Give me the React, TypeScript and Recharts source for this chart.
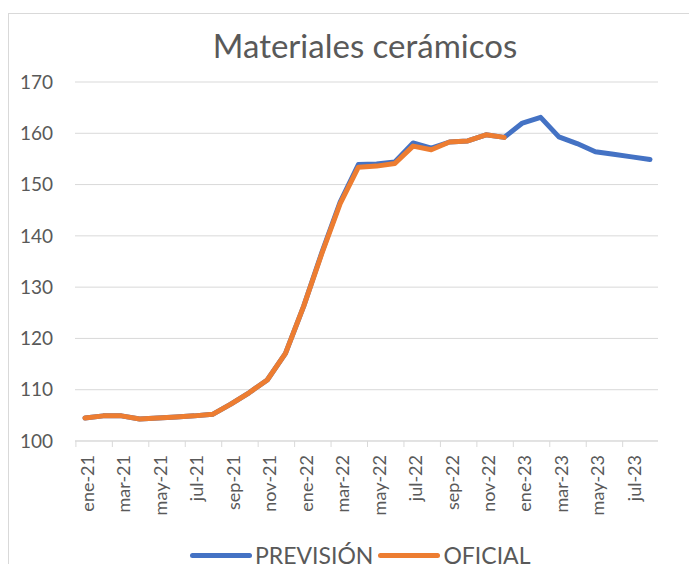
import { LineChart, Line, XAxis, YAxis, CartesianGrid, Legend } from "recharts";

const months = [
  "ene-21", "feb-21", "mar-21", "abr-21", "may-21", "jun-21", "jul-21", "ago-21",
  "sep-21", "oct-21", "nov-21", "dic-21", "ene-22", "feb-22", "mar-22", "abr-22",
  "may-22", "jun-22", "jul-22", "ago-22", "sep-22", "oct-22", "nov-22", "dic-22",
  "ene-23", "feb-23", "mar-23", "abr-23", "may-23", "jun-23", "jul-23", "ago-23",
];

const prevision = [
  104.5, 104.9, 104.9, 104.3, 104.5, 104.7, 104.9, 105.2,
  107.2, 109.4, 111.9, 117.1, 126.3, 136.8, 146.6, 153.9,
  154.0, 154.4, 158.1, 157.1, 158.3, 158.5, 159.7, 159.2,
  162.0, 163.1, 159.3, 158.0, 156.4, 155.9, 155.4, 154.9,
];

const oficial = [
  104.5, 104.9, 104.9, 104.3, 104.5, 104.7, 104.9, 105.2,
  107.2, 109.4, 111.9, 117.1, 126.3, 136.6, 146.3, 153.4,
  153.6, 154.1, 157.5, 156.8, 158.3, 158.5, 159.7, 159.2,
];

const seriesNames = ["PREVISIÓN", "OFICIAL"];

const yTicks = [100, 110, 120, 130, 140, 150, 160, 170];

const data = months.map((m, i) => ({
  month: m,
  prevision: prevision[i],
  oficial: i < oficial.length ? oficial[i] : null,
}));

const FONT = "Lato, 'Open Sans', sans-serif";
const TEXT = "#595959";
const GRID = "#d9d9d9";
const HALF_STEP = 9.1;

function MonthTick(props: any) {
  const { x, y, payload, index } = props;
  const last = index === months.length - 2;
  return (
    <g>
      <line x1={x - HALF_STEP} y1={y} x2={x - HALF_STEP} y2={y + 6} stroke={GRID} />
      {last && (
        <line x1={x + HALF_STEP * 3} y1={y} x2={x + HALF_STEP * 3} y2={y + 6} stroke={GRID} />
      )}
      <text
        x={x}
        y={y + 14}
        dy="0.5em"
        transform={`rotate(-90, ${x}, ${y + 14})`}
        textAnchor="end"
        fill={TEXT}
        fontSize={18}
        fontFamily={FONT}
      >
        {payload.value}
      </text>
    </g>
  );
}

function LegendContent(props: any) {
  const items = [...(props.payload || [])].sort(
    (a: any, b: any) => seriesNames.indexOf(a.value) - seriesNames.indexOf(b.value)
  );
  return (
    <div style={{ display: "flex", alignItems: "center", height: 24 }}>
      {items.map((it: any) => (
        <div key={it.value} style={{ display: "flex", alignItems: "center", marginRight: 5 }}>
          <div style={{ width: 62, height: 5, borderRadius: 3, background: it.color, marginRight: 3 }} />
          <span style={{ fontFamily: FONT, fontSize: 23, color: TEXT, lineHeight: "24px" }}>{it.value}</span>
        </div>
      ))}
    </div>
  );
}

export default function App() {
  return (
    <div
      style={{
        position: "relative",
        top: 5,
        width: 683,
        height: 555,
        borderTop: `1px solid ${GRID}`,
        borderLeft: `1px solid ${GRID}`,
        borderRight: `1px solid ${GRID}`,
        background: "#fff",
      }}
    >
      <div
        style={{
          position: "absolute",
          left: 0,
          width: 712,
          top: 15,
          textAlign: "center",
          fontFamily: FONT,
          fontSize: 33,
          lineHeight: "33px",
          color: TEXT,
        }}
      >
        Materiales cerámicos
      </div>
      <LineChart
        width={683}
        height={554}
        data={data}
        margin={{ top: 68, right: 34, left: 0, bottom: 97 }}
      >
        <CartesianGrid vertical={false} stroke={GRID} />
        <XAxis
          dataKey="month"
          interval={1}
          height={30}
          padding={{ left: 10, right: 8 }}
          axisLine={{ stroke: GRID }}
          tickLine={false}
          tickSize={0}
          tickMargin={0}
          tick={<MonthTick />}
        />
        <YAxis
          domain={[100, 170]}
          ticks={yTicks}
          width={66}
          axisLine={false}
          tickLine={false}
          tickSize={0}
          tickMargin={22}
          tick={{ fill: TEXT, fontSize: 19, fontFamily: FONT }}
        />
        <Legend
          layout="horizontal"
          verticalAlign="middle"
          align="center"
          content={<LegendContent />}
          wrapperStyle={{ top: 529, left: 181, width: "auto" }}
        />
        <Line
          type="linear"
          dataKey="prevision"
          name="PREVISIÓN"
          stroke="#4472C4"
          strokeWidth={5}
          strokeLinecap="round"
          strokeLinejoin="round"
          dot={false}
          activeDot={false}
          isAnimationActive={false}
        />
        <Line
          type="linear"
          dataKey="oficial"
          name="OFICIAL"
          stroke="#ED7D31"
          strokeWidth={5}
          strokeLinecap="round"
          strokeLinejoin="round"
          dot={false}
          activeDot={false}
          isAnimationActive={false}
        />
      </LineChart>
    </div>
  );
}
